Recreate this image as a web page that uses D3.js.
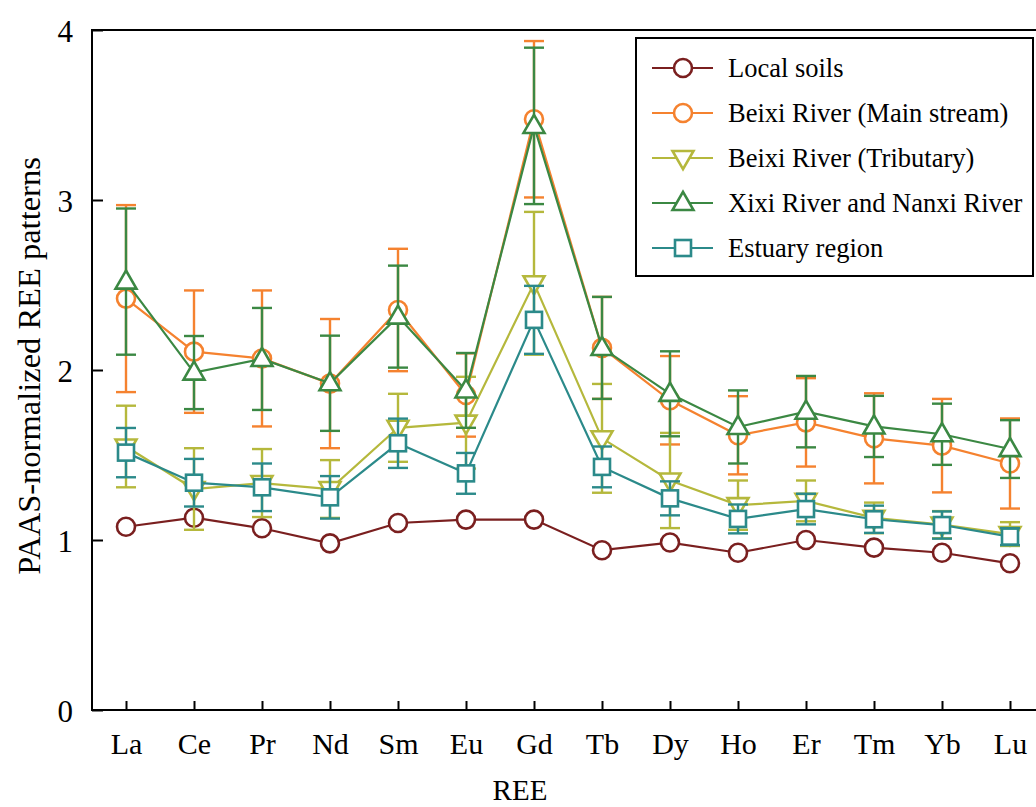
<!DOCTYPE html>
<html><head><meta charset="utf-8">
<script src="https://cdn.jsdelivr.net/npm/d3@7/dist/d3.min.js"></script>
<style>body{margin:0;background:#fff}svg{display:block}text{font-family:"Liberation Serif","Times New Roman",serif;fill:#000}</style>
</head><body><svg id="c" width="1036" height="807"></svg>
<script>
const elements = ["La","Ce","Pr","Nd","Sm","Eu","Gd","Tb","Dy","Ho","Er","Tm","Yb","Lu"];
const yTicks = [0,1,2,3,4];
const seriesNames = ["Local soils","Beixi River (Main stream)","Beixi River (Tributary)","Xixi River and Nanxi River","Estuary region"];
const localSoils = [1.078,1.131,1.069,0.98,1.10,1.12,1.12,0.94,0.985,0.925,1.0,0.955,0.925,0.863];
const mainStream = [2.42,2.108,2.068,1.92,2.353,1.853,3.475,2.13,1.822,1.616,1.692,1.598,1.555,1.45];
const mainStreamErr = [0.55,0.36,0.40,0.38,0.36,0.245,0.46,0.30,0.26,0.23,0.26,0.265,0.275,0.265];
const tributary = [1.55,1.30,1.335,1.30,1.66,1.69,2.51,1.598,1.35,1.205,1.23,1.13,1.09,1.035];
const tributaryErr = [0.24,0.24,0.2,0.17,0.2,0.27,0.42,0.32,0.28,0.145,0.12,0.09,0.08,0.07];
const xixi = [2.52,1.985,2.065,1.922,2.314,1.88,3.436,2.13,1.86,1.665,1.755,1.668,1.622,1.535];
const xixiErr = [0.43,0.215,0.30,0.28,0.30,0.22,0.46,0.30,0.25,0.215,0.21,0.18,0.18,0.17];
const estuary = [1.514,1.337,1.31,1.251,1.569,1.392,2.295,1.43,1.245,1.124,1.182,1.122,1.088,1.02];
const estuaryErr = [0.145,0.14,0.14,0.125,0.145,0.12,0.2,0.12,0.1,0.085,0.09,0.08,0.08,0.05];
const colors = ["#7a1f1f","#f5822f","#b5b83c","#3b8843","#2b8a8a"];
const shapes = ["circle","circle","triangleDown","triangleUp","square"];

const series = [
  {name:seriesNames[0], v:localSoils, e:null},
  {name:seriesNames[1], v:mainStream, e:mainStreamErr},
  {name:seriesNames[2], v:tributary, e:tributaryErr},
  {name:seriesNames[3], v:xixi, e:xixiErr},
  {name:seriesNames[4], v:estuary, e:estuaryErr}
];

const svg = d3.select("#c");
const L=92, R=1044, T=30, B=710;
const x = d3.scalePoint().domain(elements).range([L,R]).padding(0.5);
const y = d3.scaleLinear().domain([0,4]).range([B,T]);

svg.append("rect").attr("x",L).attr("y",T).attr("width",R-L).attr("height",B-T)
  .attr("fill","none").attr("stroke","#000").attr("stroke-width",2);

const yAx = svg.append("g").attr("transform",`translate(${L},0)`)
  .call(d3.axisLeft(y).tickValues(yTicks).tickFormat(d3.format("d")).tickSizeInner(-11).tickSizeOuter(0).tickPadding(19));
yAx.select(".domain").remove();
yAx.selectAll("line").attr("stroke","#000").attr("stroke-width",2);
yAx.selectAll("text").attr("font-size",31).attr("font-family","'Liberation Serif',serif").attr("dy","0.36em");

const xAx = svg.append("g").attr("transform",`translate(0,${B})`)
  .call(d3.axisBottom(x).tickSizeInner(-9).tickSizeOuter(0).tickPadding(23));
xAx.select(".domain").remove();
xAx.selectAll("line").attr("stroke","#000").attr("stroke-width",2);
xAx.selectAll("text").attr("font-size",30).attr("font-family","'Liberation Serif',serif");

svg.append("text").attr("x",520).attr("y",800).attr("text-anchor","middle").attr("font-size",29).text("REE");
svg.append("text").attr("transform",`translate(40,366) rotate(-90)`).attr("text-anchor","middle").attr("font-size",32.5).text("PAAS-normalized REE patterns");

function marker(g, shape, cx, cy, color){
  const sw = 2.6;
  if(shape==="circle"){
    g.append("circle").attr("cx",cx).attr("cy",cy).attr("r",9).attr("fill","#fff").attr("stroke",color).attr("stroke-width",sw);
  } else if(shape==="square"){
    g.append("rect").attr("x",cx-8).attr("y",cy-8).attr("width",16).attr("height",16).attr("fill","#fff").attr("stroke",color).attr("stroke-width",sw);
  } else {
    const p = d3.symbol().type(d3.symbolTriangle).size(190)();
    g.append("path").attr("d",p).attr("transform",`translate(${cx},${cy+(shape==="triangleUp"?1:-1)}) rotate(${shape==="triangleUp"?0:180})`)
      .attr("fill","#fff").attr("stroke",color).attr("stroke-width",sw);
  }
}

const line = d3.line().x((d,i)=>x(elements[i])).y(d=>y(d));
series.forEach((s,si)=>{
  const g = svg.append("g");
  const c = colors[si];
  if(s.e){
    s.v.forEach((v,i)=>{
      const cx = x(elements[i]);
      const y1 = y(v+s.e[i]), y0 = y(v-s.e[i]);
      g.append("line").attr("x1",cx).attr("x2",cx).attr("y1",y1).attr("y2",y0).attr("stroke",c).attr("stroke-width",2.4);
      [y1,y0].forEach(yy=>g.append("line").attr("x1",cx-10).attr("x2",cx+10).attr("y1",yy).attr("y2",yy).attr("stroke",c).attr("stroke-width",2.4));
    });
  }
  g.append("path").attr("d",line(s.v)).attr("fill","none").attr("stroke",c).attr("stroke-width",2.2);
  s.v.forEach((v,i)=>marker(g, shapes[si], x(elements[i]), y(v), c));
});

const lg = svg.append("g");
lg.append("rect").attr("x",636).attr("y",38).attr("width",397).attr("height",238).attr("fill","#fff").attr("stroke","#000").attr("stroke-width",2);
series.forEach((s,si)=>{
  const yy = 68 + si*45;
  lg.append("line").attr("x1",652).attr("x2",713).attr("y1",yy).attr("y2",yy).attr("stroke",colors[si]).attr("stroke-width",2.2);
  marker(lg, shapes[si], 683, yy, colors[si]);
  lg.append("text").attr("x",728).attr("y",yy).attr("dy","0.35em").attr("font-size",26.5).text(s.name);
});
</script></body></html>
